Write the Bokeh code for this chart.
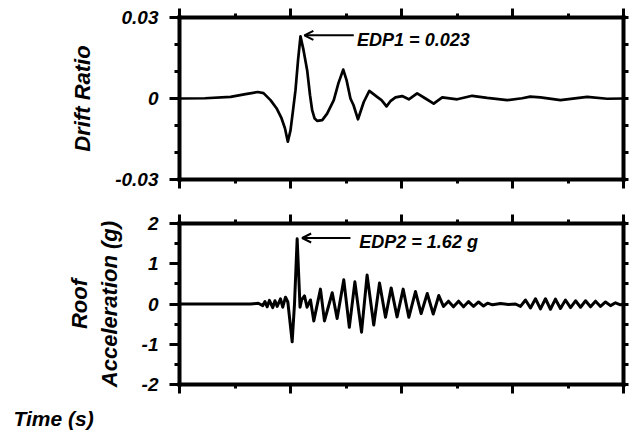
from bokeh.plotting import figure
from bokeh.layouts import column
from bokeh.models import Range1d, LinearAxis, FixedTicker, Label, Arrow, OpenHead, Title
from bokeh.embed import file_html
from bokeh.resources import INLINE

# ---------------- data ----------------
time_drift = [0, 2.3, 4.6, 5.95, 7.05, 7.57, 8.2, 8.74, 9.19, 9.5, 9.76, 10.0, 10.23, 10.45,
              10.68, 10.9, 11.17, 11.5, 11.76, 11.95, 12.16, 12.4, 12.86, 13.3, 13.9, 14.32,
              14.75, 15.05, 15.4, 15.68, 16.08, 16.6, 17.1, 17.48, 17.8, 18.2, 18.65, 19.0,
              19.46, 20.06, 20.66, 21.41, 22.16, 22.9, 23.67, 25.02, 26.37, 27.72, 29.52,
              30.87, 31.6, 32.52, 34.32, 36.73, 38.53, 40.0]
drift = [0, 0.0001, 0.0006, 0.0016, 0.0024, 0.002, -0.0006, -0.0036, -0.0073, -0.011, -0.016,
         -0.0118, -0.0043, 0.0031, 0.0142, 0.023, 0.018, 0.0105, 0.0012, -0.0043, -0.0073,
         -0.0083, -0.008, -0.0056, -0.0006, 0.0057, 0.0107, 0.0068, 0.0, -0.0025, -0.0077,
         -0.0013, 0.0028, 0.0016, 0.0006, -0.0006, -0.0029, -0.001, 0.0004, 0.0009, -0.0003,
         0.0019, 0.0, -0.0019, 0.0004, -0.0003, 0.001, 0.0002, -0.0006, 0.0001, 0.0007,
         0.0004, -0.0006, 0.0006, -0.0001, 0.0]

time_acc = [0, 6.4, 7.1, 7.5, 7.7, 7.9, 8.1, 8.4, 8.6, 8.8, 9.1, 9.3, 9.55, 9.76, 10.15, 10.36,
            10.6, 10.86, 11.0, 11.26, 11.49, 11.8, 12.1, 12.7, 13.06, 13.76, 14.2, 14.8,
            15.3, 15.8, 16.4, 16.9, 17.5, 18.02, 18.56, 19.07, 19.6, 20.15, 20.66, 21.26,
            21.77, 22.32, 22.86, 23.36, 23.78, 24.23, 24.68, 25.14, 25.59, 26.04, 26.49, 26.94,
            27.39, 27.75, 28.2, 28.92, 29.64, 30.27, 30.72, 31.17, 31.62, 32.07, 32.52, 32.97,
            33.42, 33.87, 34.32, 34.77, 35.23, 35.68, 36.13, 36.58, 37.03, 37.48, 37.93, 38.38,
            38.83, 39.28, 39.73, 40.0]
acc = [0, 0, 0.02, -0.04, 0.06, -0.07, 0.09, -0.09, 0.08, -0.06, 0.13, -0.08, 0.17, 0.05, -0.94,
       0.0, 1.62, -0.08, 0.1, 0.2, -0.08, 0.1, -0.42, 0.37, -0.42, 0.28, -0.36, 0.6, -0.58,
       0.55, -0.7, 0.72, -0.52, 0.52, -0.33, 0.40, -0.32, 0.37, -0.33, 0.31, -0.24, 0.26,
       -0.25, 0.21, -0.06, 0.07, -0.07, 0.07, -0.07, 0.06, -0.06, 0.05, -0.05, 0.02, -0.02,
       0.01, -0.01, 0.0, -0.06, 0.1, -0.1, 0.13, -0.12, 0.13, -0.13, 0.12, -0.11, 0.1, -0.09,
       0.08, -0.08, 0.08, -0.07, 0.07, -0.06, 0.05, -0.04, 0.03, -0.02, 0.0]

x_major = [0, 10, 20, 30, 40]
x_minor = [5, 15, 25, 35]
drift_ticks = [-0.03, 0, 0.03]
drift_tick_labels = ["-0.03", "0", "0.03"]
drift_minor = [-0.02, -0.01, 0.01, 0.02]
acc_ticks = [-2, -1, 0, 1, 2]
acc_tick_labels = ["-2", "-1", "0", "1", "2"]
acc_minor = [-1.5, -0.5, 0.5, 1.5]

FONT = "Liberation Sans"


def style_axis(ax, ticks, minor, major_out, minor_out, labels=None, font_size="19px"):
    ax.ticker = FixedTicker(ticks=ticks, minor_ticks=minor)
    ax.axis_line_width = 4
    ax.axis_line_color = "black"
    ax.axis_line_cap = "square"
    ax.major_tick_line_width = 3
    ax.minor_tick_line_width = 3
    ax.major_tick_in = 0
    ax.minor_tick_in = 0
    ax.major_tick_out = major_out
    ax.minor_tick_out = minor_out
    if labels is None:
        ax.major_label_text_font_size = "0px"
        ax.major_label_standoff = 0
        ax.major_label_text_color = None
    else:
        ax.major_label_overrides = {t: l for t, l in zip(ticks, labels)}
        ax.major_label_text_font = FONT
        ax.major_label_text_font_style = "bold italic"
        ax.major_label_text_font_size = font_size
        ax.major_label_text_color = "black"
        ax.major_label_standoff = 11
    ax.axis_label_text_font = FONT
    ax.axis_label_text_font_style = "bold italic"
    ax.axis_label_text_font_size = "22px"
    ax.axis_label_text_color = "black"
    ax.axis_label_standoff = 17


def make_fig(yr, fh, top, bottom):
    p = figure(frame_width=444, frame_height=fh, x_range=Range1d(0, 40), y_range=yr,
               output_backend="svg", toolbar_location=None,
               x_axis_location=None, y_axis_location=None,
               min_border_left=179, min_border_right=6,
               min_border_top=top, min_border_bottom=bottom)
    p.outline_line_color = None
    p.xgrid.visible = False
    p.ygrid.visible = False
    p.background_fill_color = "white"
    p.border_fill_color = "white"
    return p


# ---------------- top panel: drift ----------------
p1 = make_fig(Range1d(-0.03, 0.03), 162, 17, 30)
left1 = LinearAxis(axis_label="Drift Ratio")
style_axis(left1, drift_ticks, drift_minor, 10, 5, drift_tick_labels)
p1.add_layout(left1, "left")
right1 = LinearAxis()
style_axis(right1, drift_ticks, drift_minor, 5, 5)
p1.add_layout(right1, "right")
top1 = LinearAxis()
style_axis(top1, x_major, x_minor, 9, 4)
p1.add_layout(top1, "above")
bot1 = LinearAxis()
style_axis(bot1, x_major, x_minor, 9, 4)
p1.add_layout(bot1, "below")

p1.line(time_drift, drift, line_color="black", line_width=2.7, line_join="round")

i1 = max(range(len(drift)), key=lambda i: drift[i])
t1, v1 = time_drift[i1], drift[i1]
p1.add_layout(Arrow(end=OpenHead(size=9, line_width=2, line_color="black"),
                    x_start=t1 + 4.8, y_start=v1 + 0.0004, x_end=t1 + 0.35, y_end=v1 + 0.0004,
                    line_width=2, line_color="black"))
p1.add_layout(Label(x=t1 + 5.1, y=v1 - 0.0015, text=f"EDP1 = {v1:.3f}",
                    text_font=FONT, text_font_style="bold italic", text_font_size="18px",
                    text_baseline="middle", text_align="left", text_color="black"))

# ---------------- bottom panel: acceleration ----------------
p2 = make_fig(Range1d(-2, 2), 161, 14, 52)
left2 = LinearAxis(axis_label="Roof\nAcceleration (g)")
style_axis(left2, acc_ticks, acc_minor, 10, 5, acc_tick_labels)
p2.add_layout(left2, "left")
right2 = LinearAxis()
style_axis(right2, acc_ticks, acc_minor, 5, 5)
p2.add_layout(right2, "right")
top2 = LinearAxis()
style_axis(top2, x_major, x_minor, 9, 4)
p2.add_layout(top2, "above")
bot2 = LinearAxis()
style_axis(bot2, x_major, x_minor, 9, 4)
p2.add_layout(bot2, "below")

p2.line(time_acc, acc, line_color="black", line_width=3, line_join="round")

i2 = max(range(len(acc)), key=lambda i: acc[i])
t2, v2 = time_acc[i2], acc[i2]
p2.add_layout(Arrow(end=OpenHead(size=9, line_width=2, line_color="black"),
                    x_start=t2 + 4.8, y_start=v2 + 0.02, x_end=t2 + 0.45, y_end=v2 + 0.02,
                    line_width=2, line_color="black"))
p2.add_layout(Label(x=t2 + 5.6, y=v2 - 0.09, text=f"EDP2 = {v2:.2f} g",
                    text_font=FONT, text_font_style="bold italic", text_font_size="18px",
                    text_baseline="middle", text_align="left", text_color="black"))

p2.add_layout(Title(text="Time (s)", align="left", offset=-166, standoff=23,
                    text_font=FONT, text_font_style="bold italic", text_font_size="21px",
                    text_color="black"), "below")

layout = column(p1, p2, spacing=0)
open("out.html", "w").write(file_html(layout, INLINE))
